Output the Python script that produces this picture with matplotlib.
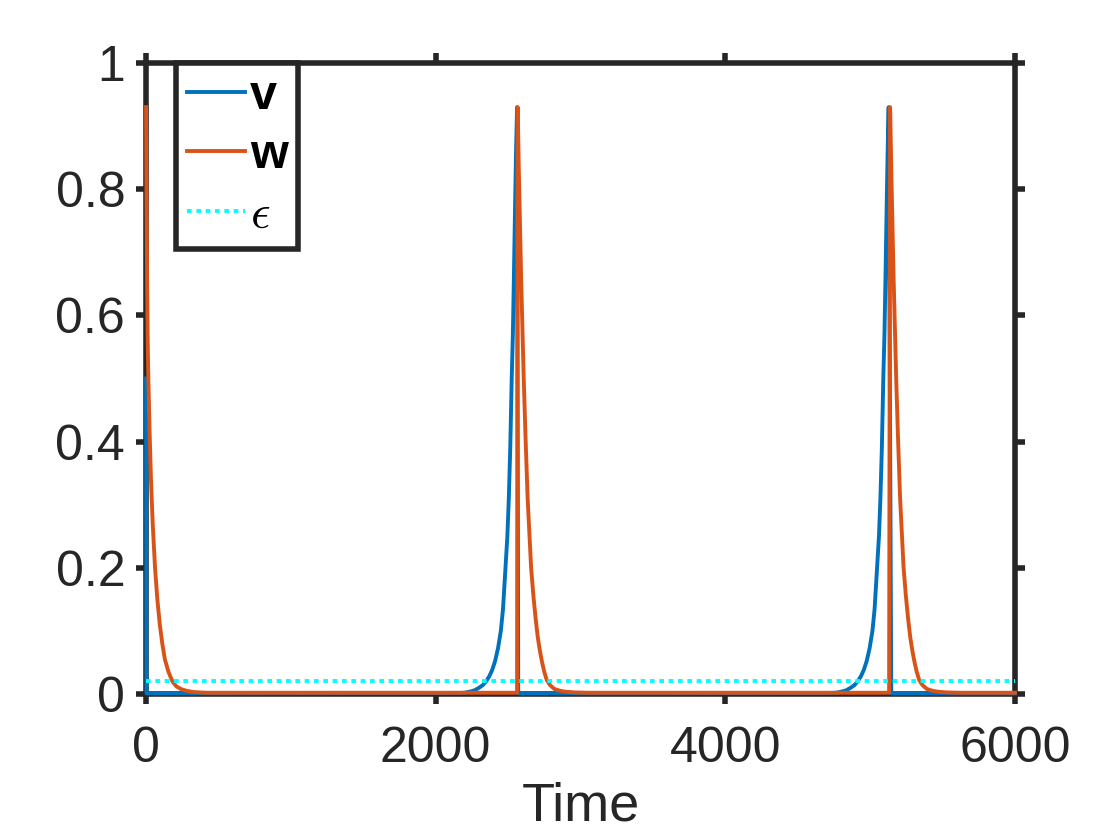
import matplotlib
matplotlib.use("Agg")
import matplotlib.pyplot as plt
from matplotlib.ticker import FuncFormatter

# values
t_v = [0, 3, 2150, 2200, 2240, 2270, 2300, 2325, 2348, 2370, 2390, 2410, 2430, 2450,
       2465, 2482, 2495, 2505, 2515, 2525, 2533, 2540, 2548, 2555, 2562, 2570,
       4716, 4766, 4806, 4836, 4866, 4891, 4914, 4936, 4956, 4976, 4996, 5016,
       5031, 5048, 5061, 5071, 5081, 5091, 5099, 5106, 5114, 5121, 5128, 5146, 6000]
v = [0.5, 0.001, 0.0015, 0.002, 0.004, 0.006, 0.010, 0.014, 0.020, 0.028, 0.038, 0.052,
     0.072, 0.10, 0.135, 0.20, 0.25, 0.31, 0.39, 0.50, 0.57, 0.66, 0.77, 0.86, 0.93, 0.001,
     0.0015, 0.002, 0.004, 0.006, 0.010, 0.014, 0.020, 0.028, 0.038, 0.052, 0.072, 0.10,
     0.135, 0.20, 0.25, 0.31, 0.39, 0.50, 0.57, 0.66, 0.77, 0.86, 0.93, 0.001, 0.001]

t_w = [0, 3, 7, 12, 16, 24, 34, 46, 62, 78, 95, 112, 130, 155, 182, 210, 240, 280, 330, 420,
       2562, 2566, 2575, 2590, 2608, 2620, 2635, 2659, 2675, 2690, 2705, 2720, 2735, 2750,
       2767, 2790, 2820, 2860, 2900, 2960, 3050,
       5131, 5138, 5147, 5162, 5180, 5192, 5207, 5231, 5247, 5262, 5277, 5292, 5307, 5322,
       5339, 5362, 5392, 5432, 5472, 5532, 5622, 6000]
w = [0.93, 0.80, 0.66, 0.55, 0.50, 0.42, 0.34, 0.27, 0.20, 0.15, 0.11, 0.08, 0.055, 0.035,
     0.02, 0.012, 0.008, 0.005, 0.003, 0.002,
     0.002, 0.93, 0.82, 0.66, 0.50, 0.41, 0.31, 0.20, 0.155, 0.12, 0.09, 0.068, 0.05, 0.035,
     0.022, 0.014, 0.008, 0.005, 0.0035, 0.0025, 0.002,
     0.002, 0.93, 0.82, 0.66, 0.50, 0.41, 0.31, 0.20, 0.155, 0.12, 0.09, 0.068, 0.05, 0.035,
     0.022, 0.014, 0.008, 0.005, 0.0035, 0.0025, 0.002, 0.002]

epsilon = 0.02
x_ticks = [0, 2000, 4000, 6000]
y_ticks = [0, 0.2, 0.4, 0.6, 0.8, 1]

plt.rcParams['font.family'] = ['Liberation Sans', 'DejaVu Sans']
plt.rcParams['mathtext.fontset'] = 'cm'

axis_col = '#262626'
fig = plt.figure(figsize=(11.2, 8.4), dpi=100)
ax = fig.add_axes([0.1304, 0.1738, 0.7758, 0.7512])

ax.plot(t_v, v, color='#0072BD', lw=2.8, label='v', zorder=3, clip_on=False)
ax.plot(t_w, w, color='#D95319', lw=2.8, label='w', zorder=3, clip_on=False)
ax.plot([x_ticks[0], x_ticks[-1]], [epsilon, epsilon], color='cyan', lw=2.8,
        ls=(0, (1.2, 1.2)), label=r'$\epsilon$', zorder=3)

ax.set_xlim(0, 6000)
ax.set_ylim(0, 1)
ax.set_xticks(x_ticks)
ax.set_yticks(y_ticks)
ax.yaxis.set_major_formatter(FuncFormatter(lambda y, p: f"{y:g}"))

for s in ax.spines.values():
    s.set_linewidth(4)
    s.set_color(axis_col)
ax.tick_params(direction='out', length=7, width=4, colors=axis_col,
               labelsize=36, top=True, right=True)
ax.tick_params(axis='x', pad=16)
ax.tick_params(axis='y', pad=8)
ax.set_xlabel('Time', fontsize=39, color=axis_col, labelpad=7)

leg = ax.legend(loc='upper left', bbox_to_anchor=(0.0345, 1.0), borderaxespad=0,
                prop={'weight': 'bold', 'size': 35},
                handlelength=1.2, handletextpad=0.1, labelspacing=0.3,
                borderpad=0.22, fancybox=False, framealpha=1)
leg.get_frame().set_edgecolor(axis_col)
leg.get_frame().set_linewidth(4)

fig.savefig('out.png', dpi=100)
